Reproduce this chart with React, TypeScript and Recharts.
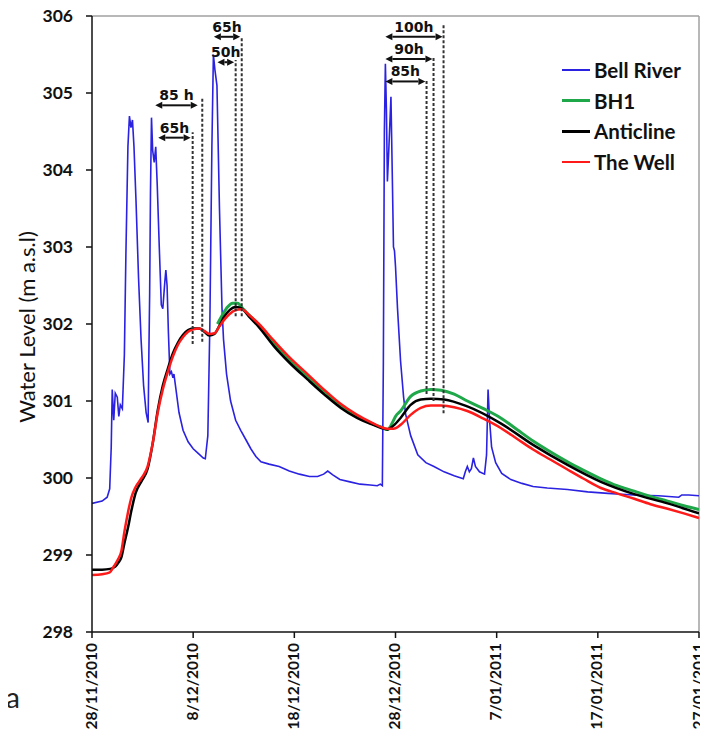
import React from 'react';
// npm
import { LineChart, Line, XAxis, YAxis, ReferenceLine, Legend } from 'recharts';

// x values are days after 28/11/2010
const dateTicks = [0, 10, 20, 30, 40, 50, 60];
const dateLabels = ['28/11/2010', '8/12/2010', '18/12/2010', '28/12/2010', '7/01/2011', '17/01/2011', '27/01/2011'];
const levelTicks = [298, 299, 300, 301, 302, 303, 304, 305, 306];

const bellRiver: [number, number][] = [
  [0, 299.67], [1.0, 299.7], [1.5, 299.75], [1.75, 299.86], [1.9, 300.4], [2.0, 301.15], [2.15, 300.75],
  [2.3, 301.1], [2.5, 301.05], [2.65, 300.8], [2.8, 300.95], [3.0, 300.9], [3.2, 301.6], [3.35, 302.9],
  [3.55, 304.3], [3.7, 304.7], [3.85, 304.55], [4.0, 304.65], [4.15, 304.3], [4.35, 303.6], [4.6, 302.6],
  [4.85, 301.8], [5.1, 301.2], [5.35, 300.85], [5.55, 300.72], [5.62, 301.6], [5.7, 302.4], [5.78, 303.7],
  [5.88, 304.68], [6.0, 304.25], [6.15, 304.1], [6.3, 304.3], [6.45, 303.8], [6.65, 303.0], [6.85, 302.25],
  [7.0, 302.2], [7.2, 302.55], [7.3, 302.7], [7.42, 302.5], [7.55, 301.9], [7.7, 301.35], [7.85, 301.38],
  [8.0, 301.3], [8.1, 301.35], [8.3, 301.15], [8.6, 300.85], [9.0, 300.62], [9.5, 300.47], [10.0, 300.38],
  [10.5, 300.32], [11.0, 300.26], [11.2, 300.25], [11.45, 300.55], [11.65, 302.0], [11.85, 304.3],
  [12.0, 305.5], [12.15, 305.3], [12.35, 305.1], [12.6, 303.5], [12.85, 302.2], [13.0, 301.8], [13.3, 301.35],
  [13.7, 301.0], [14.2, 300.75], [14.7, 300.62], [15.2, 300.5], [15.7, 300.38], [16.2, 300.28], [16.7, 300.21],
  [17.5, 300.18], [18.5, 300.15], [19.5, 300.09], [20.5, 300.05], [21.5, 300.02], [22.3, 300.02], [22.9, 300.05],
  [23.3, 300.09], [23.8, 300.04], [24.5, 299.98], [25.5, 299.95], [26.5, 299.92], [27.5, 299.91], [28.2, 299.9],
  [28.5, 299.92], [28.7, 299.9], [28.8, 301.5], [28.9, 304.5], [29.0, 305.38], [29.1, 304.8], [29.2, 303.85],
  [29.35, 304.3], [29.55, 304.95], [29.7, 303.8], [29.8, 303.0], [29.9, 302.95], [30.0, 302.75], [30.2, 302.2],
  [30.5, 301.52], [30.8, 301.05], [31.0, 300.83], [31.5, 300.55], [32.2, 300.3], [33.0, 300.2], [33.8, 300.15],
  [34.8, 300.08], [35.8, 300.03], [36.7, 299.99], [36.9, 300.08], [37.1, 300.15], [37.3, 300.08], [37.5, 300.12],
  [37.7, 300.26], [37.9, 300.15], [38.3, 300.08], [38.8, 300.05], [39.0, 300.3], [39.15, 301.15], [39.3, 300.75],
  [39.5, 300.4], [39.9, 300.2], [40.5, 300.06], [41.4, 299.98], [42.5, 299.93], [43.6, 299.89], [45.0, 299.87],
  [47.0, 299.85], [49.0, 299.82], [51.0, 299.8], [53.5, 299.78], [56.0, 299.77], [58.0, 299.75], [58.3, 299.78],
  [59.0, 299.78], [60.0, 299.77],
];

const bh1: [number, number][] = [
  [12.4, 302.0], [12.9, 302.12], [13.4, 302.22], [13.9, 302.27], [14.4, 302.27], [14.9, 302.2], [15.5, 302.12],
  [16.5, 301.99], [18.0, 301.74], [19.5, 301.53], [21.3, 301.31], [23.0, 301.11], [24.6, 300.93], [26.2, 300.8],
  [27.8, 300.7], [28.6, 300.66], [29.2, 300.63], [29.7, 300.72], [30.0, 300.8], [30.5, 300.87], [31.5, 301.06],
  [32.5, 301.13], [33.5, 301.15], [34.5, 301.14], [35.8, 301.09], [37.1, 301.0], [38.7, 300.9], [40.4, 300.78],
  [42.0, 300.63], [43.6, 300.48], [45.3, 300.34], [47.0, 300.21], [48.6, 300.1], [50.3, 299.99], [51.9, 299.9],
  [53.6, 299.83], [55.2, 299.76], [56.9, 299.7], [58.5, 299.64], [60, 299.59],
];

const anticline: [number, number][] = [
  [0, 298.81], [1.0, 298.81], [1.8, 298.82], [2.3, 298.85], [2.6, 298.9], [2.9, 298.97], [3.2, 299.15],
  [3.55, 299.35], [3.9, 299.58], [4.3, 299.8], [4.9, 299.96], [5.5, 300.12], [6.0, 300.45], [6.5, 300.88],
  [7.0, 301.2], [7.5, 301.42], [8.0, 301.62], [8.5, 301.76], [9.0, 301.86], [9.5, 301.92], [10.0, 301.94],
  [10.6, 301.94], [11.1, 301.9], [11.6, 301.85], [12.1, 301.87], [12.6, 301.98], [13.1, 302.1], [13.6, 302.18],
  [14.2, 302.22], [14.7, 302.21], [15.5, 302.1], [16.5, 301.96], [18.0, 301.71], [19.5, 301.5], [21.3, 301.28],
  [23.0, 301.08], [24.6, 300.91], [26.2, 300.78], [27.8, 300.69], [28.6, 300.65], [29.2, 300.63], [29.8, 300.68],
  [30.5, 300.78], [31.5, 300.95], [32.5, 301.02], [33.5, 301.03], [34.8, 301.02], [37.1, 300.93], [40.4, 300.71],
  [43.6, 300.43], [47.0, 300.17], [50.3, 299.95], [53.6, 299.79], [56.9, 299.67], [60, 299.54],
];

const theWell: [number, number][] = [
  [0, 298.74], [1.0, 298.75], [1.7, 298.77], [2.2, 298.86], [2.6, 298.95], [2.9, 299.05], [3.2, 299.3],
  [3.55, 299.55], [3.9, 299.75], [4.3, 299.88], [4.9, 300.0], [5.5, 300.15], [6.0, 300.45], [6.5, 300.85],
  [7.0, 301.15], [7.5, 301.38], [8.0, 301.58], [8.5, 301.73], [9.0, 301.83], [9.5, 301.9], [10.0, 301.93],
  [10.6, 301.94], [11.1, 301.91], [11.6, 301.87], [12.1, 301.88], [12.6, 301.97], [13.1, 302.06], [13.6, 302.13],
  [14.2, 302.18], [14.8, 302.19], [15.5, 302.12], [16.5, 302.0], [18.0, 301.78], [19.5, 301.57], [21.3, 301.35],
  [23.0, 301.14], [24.6, 300.96], [26.2, 300.82], [27.8, 300.71], [28.6, 300.66], [29.2, 300.64], [29.8, 300.64],
  [30.5, 300.69], [31.5, 300.82], [32.5, 300.91], [33.5, 300.94], [34.5, 300.94], [35.8, 300.92], [37.1, 300.87],
  [38.7, 300.77], [40.4, 300.65], [42.0, 300.51], [43.6, 300.37], [45.3, 300.24], [47.0, 300.11], [48.6, 299.99],
  [50.3, 299.87], [51.9, 299.8], [53.6, 299.73], [55.2, 299.66], [56.9, 299.6], [58.5, 299.54], [60, 299.48],
];

// lag markers: dashed drop lines and double arrows with their labels
const dropLines = [
  { day: 9.95, from: 301.74, to: 304.49 },
  { day: 10.9, from: 301.77, to: 304.95 },
  { day: 14.2, from: 302.1, to: 305.43 },
  { day: 14.8, from: 302.1, to: 305.73 },
  { day: 33.07, from: 301.09, to: 305.17 },
  { day: 33.76, from: 301.0, to: 305.47 },
  { day: 34.75, from: 300.84, to: 305.88 },
];

const lagArrows = [
  { label: '65h', from: 6.55, to: 9.75, level: 304.42 },
  { label: '85 h', from: 6.25, to: 10.45, level: 304.84 },
  { label: '50h', from: 12.4, to: 14.05, level: 305.4 },
  { label: '65h', from: 12.05, to: 14.65, level: 305.73 },
  { label: '85h', from: 29.0, to: 32.95, level: 305.15 },
  { label: '90h', from: 29.0, to: 33.65, level: 305.44 },
  { label: '100h', from: 29.0, to: 34.65, level: 305.73 },
];

const toPoints = (rows: [number, number][]) => rows.map(([day, level]) => ({ day, level }));

const series = [
  { name: 'Bell River', rows: bellRiver, color: '#2a22e0', width: 1.6, type: 'linear' },
  { name: 'BH1', rows: bh1, color: '#1fa84a', width: 3, type: 'monotone' },
  { name: 'Anticline', rows: anticline, color: '#000000', width: 2.5, type: 'monotone' },
  { name: 'The Well', rows: theWell, color: '#ff1a1a', width: 2.5, type: 'monotone' },
];

const arrowShape = (label: string) => (props: any) => {
  const { x1, y1, x2, y2 } = props;
  const h = 7;
  const w = 3.5;
  return (
    <g>
      <line x1={x1 + h} y1={y1} x2={x2 - h} y2={y2} stroke="#111" strokeWidth={2} />
      <polygon points={`${x1},${y1} ${x1 + h},${y1 - w} ${x1 + h},${y1 + w}`} fill="#111" />
      <polygon points={`${x2},${y2} ${x2 - h},${y2 - w} ${x2 - h},${y2 + w}`} fill="#111" />
      <text
        x={(x1 + x2) / 2}
        y={y1 - 5}
        textAnchor="middle"
        fontFamily="DejaVu Sans"
        fontWeight="bold"
        fontSize={14}
        fill="#111"
      >
        {label}
      </text>
    </g>
  );
};

const DateTick = ({ x, y, payload }: any) => (
  <text
    x={x}
    y={y}
    transform={`rotate(-90 ${x} ${y})`}
    textAnchor="end"
    dy="0.3em"
    fontFamily="Lato"
    fontWeight="bold"
    fontSize={15.5}
    fill="#111"
  >
    {dateLabels[dateTicks.indexOf(payload.value)]}
  </text>
);

const renderLegend = () => (
  <div style={{ fontFamily: 'Lato', fontWeight: 700, fontSize: 20.5, color: '#111' }}>
    {series.map((s) => (
      <div key={s.name} style={{ display: 'flex', alignItems: 'center', height: 30.5 }}>
        <span
          style={{ display: 'inline-block', width: 28, height: s.width, background: s.color, marginRight: 4 }}
        />
        <span>{s.name}</span>
      </div>
    ))}
  </div>
);

const App = () => {
  return (
    <div style={{ position: 'relative', width: 708, height: 745, margin: -8 }}>
      <LineChart width={708} height={745} margin={{ top: 16, right: 9, bottom: 0, left: 0 }}>
        <XAxis
          dataKey="day"
          type="number"
          domain={[0, 60]}
          ticks={dateTicks}
          interval={0}
          allowDataOverflow
          height={113}
          stroke="#111"
          strokeWidth={1.5}
          tickSize={6}
          tickMargin={5}
          tick={<DateTick />}
        />
        <YAxis
          type="number"
          domain={[298, 306]}
          ticks={levelTicks}
          interval={0}
          width={92}
          stroke="#111"
          strokeWidth={1.5}
          tickSize={6}
          tickMargin={13}
          tick={{ fontFamily: 'Lato', fontWeight: 'bold', fontSize: 17.5, fill: '#111' }}
          label={{
            value: 'Water Level (m a.s.l)',
            content: ({ viewBox, value }: any) => {
              const cx = viewBox.x + 26;
              const cy = viewBox.y + viewBox.height / 2 + 3;
              return (
                <text
                  x={cx}
                  y={cy}
                  transform={`rotate(-90 ${cx} ${cy})`}
                  textAnchor="middle"
                  dominantBaseline="central"
                  fontFamily="Lato"
                  fontSize={22}
                  fill="#111"
                >
                  {value}
                </text>
              );
            },
          }}
        />
        <ReferenceLine y={306} stroke="#a0a0a0" strokeWidth={1.5} />
        <ReferenceLine x={60} stroke="#a0a0a0" strokeWidth={1.5} />
        {series.map((s) => (
          <Line
            key={s.name}
            data={toPoints(s.rows)}
            dataKey="level"
            name={s.name}
            type={s.type as any}
            stroke={s.color}
            strokeWidth={s.width}
            dot={false}
            activeDot={false}
            isAnimationActive={false}
          />
        ))}
        {dropLines.map((d, i) => (
          <ReferenceLine
            key={`drop-${i}`}
            segment={[{ x: d.day, y: d.from }, { x: d.day, y: d.to }]}
            stroke="#333"
            strokeWidth={2}
            strokeDasharray="3 2"
          />
        ))}
        {lagArrows.map((a, i) => (
          <ReferenceLine
            key={`arrow-${i}`}
            segment={[{ x: a.from, y: a.level }, { x: a.to, y: a.level }]}
            shape={arrowShape(a.label)}
          />
        ))}
        <Legend
          layout="vertical"
          align="center"
          verticalAlign="middle"
          wrapperStyle={{ left: 562, top: 55, width: 140 }}
          content={renderLegend}
        />
      </LineChart>
      <span
        style={{ position: 'absolute', left: 6, top: 680, fontFamily: 'Lato', fontSize: 28, color: '#222' }}
      >
        a
      </span>
    </div>
  );
};

export default App;
